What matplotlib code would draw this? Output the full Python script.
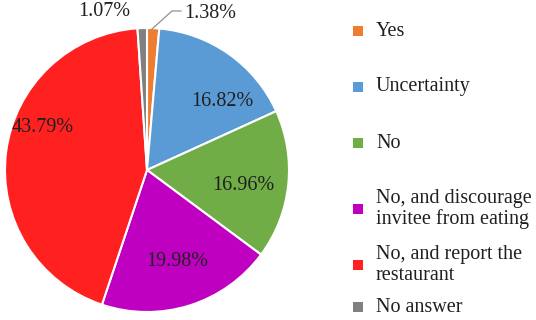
import matplotlib
matplotlib.use("Agg")
import matplotlib.pyplot as plt
from matplotlib.patches import Rectangle

categories = ["Yes", "Uncertainty", "No", "No, and discourage\ninvitee from eating",
              "No, and report the\nrestaurant", "No answer"]
values = [1.38, 16.82, 16.96, 19.98, 43.79, 1.07]
colors = ["#ED7D31", "#5B9BD5", "#70AD47", "#C000C0", "#FF2020", "#808080"]
labels = ["1.38%", "16.82%", "16.96%", "19.98%", "43.79%", "1.07%"]

plt.rcParams['font.family'] = ['Liberation Serif', 'DejaVu Serif']

W, H = 536, 320
fig = plt.figure(figsize=(W/100, H/100), dpi=100)
cx, cy, r = 147, 170, 142
ax = fig.add_axes([(cx - r)/W, (H - cy - r)/H, 2*r/W, 2*r/H])
ax.pie(values, colors=colors, startangle=90, counterclock=False, radius=1,
       wedgeprops=dict(edgecolor="white", linewidth=1.5))
ax.set_xlim(-1, 1)
ax.set_ylim(-1, 1)
ax.set_aspect('auto')
ax.axis('off')

def px(x, y):
    return ((x - cx)/r, (cy - y)/r)

fs = 14.5
label_pos = [None, (222, 101), (243, 186), (177, 262), (43, 128), None]
for lab, pos in zip(labels, label_pos):
    if pos is not None:
        ax.text(*px(*pos), lab, ha='center', va='center', fontsize=fs, color='#202020')

# outside labels
fig.text(104/W, 1 - 12/H, labels[5], ha='center', va='center', fontsize=fs, color='#202020')
fig.text(184/W, 1 - 13/H, labels[0], ha='left', va='center', fontsize=fs, color='#202020')
fig.add_artist(plt.Line2D([152/W, 172/W, 181/W], [1 - 29/H, 1 - 11/H, 1 - 11/H],
                          color='#909090', linewidth=0.9))

# legend
legend_y = [31, 87, 143, 209, 265, 307]
for cat, col, y in zip(categories, colors, legend_y):
    fig.add_artist(Rectangle(((358 - 5)/W, 1 - (y + 5)/H), 10/W, 10/H,
                             facecolor=col, edgecolor='none'))
    fig.text(376/W, 1 - y/H, cat, ha='left', va='center', fontsize=fs,
             color='#202020', linespacing=1.1)

fig.savefig("out.png", dpi=100)
